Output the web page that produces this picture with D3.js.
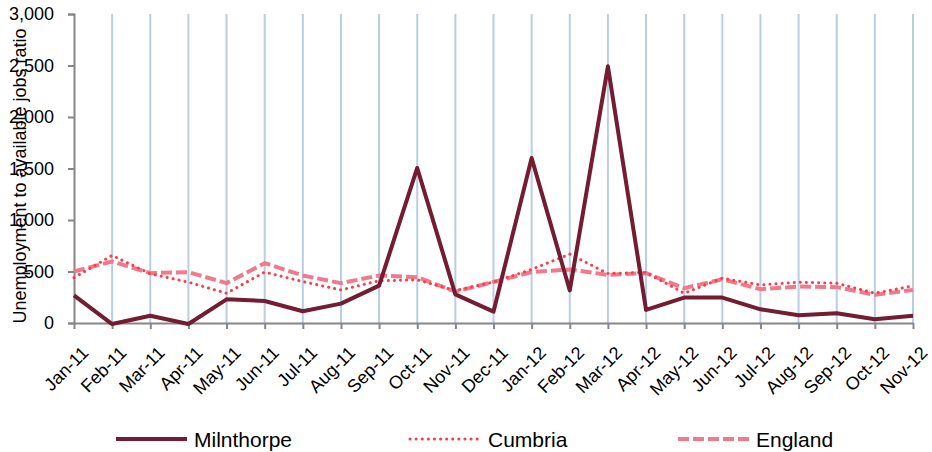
<!DOCTYPE html>
<html><head><meta charset="utf-8">
<script src="https://cdn.jsdelivr.net/npm/d3@7"></script>
<style>body{margin:0;background:#fff}svg{display:block;font-family:"Liberation Sans",Arial,sans-serif}</style>
</head><body>
<svg id="chart" width="932" height="452"></svg>
<script>
const months = ["Jan-11","Feb-11","Mar-11","Apr-11","May-11","Jun-11","Jul-11","Aug-11","Sep-11","Oct-11","Nov-11","Dec-11","Jan-12","Feb-12","Mar-12","Apr-12","May-12","Jun-12","Jul-12","Aug-12","Sep-12","Oct-12","Nov-12"];
const milnthorpe = [268,-10,71,-10,230,214,114,188,363,1505,278,110,1602,316,2492,127,247,247,133,75,94,36,71];
const cumbria = [440,656,478,396,289,494,402,321,410,419,315,398,520,669,480,492,289,435,370,396,386,289,360];
const england = [500,597,484,494,387,581,461,387,461,445,305,398,495,520,467,484,338,425,328,354,348,273,321];
const yTicks = [0,500,1000,1500,2000,2500,3000];
const seriesNames = ["Milnthorpe","Cumbria","England"];

const svg = d3.select("#chart");
const x = d3.scalePoint().domain(months).range([74,913]);
const y = d3.scaleLinear().domain([0,3000]).range([323,14]);
const axisCol = "#868686";
const font = "Liberation Sans, Arial, sans-serif";

// vertical gridlines
svg.append("g").selectAll("line").data(months.slice(1)).join("line")
  .attr("x1",d=>x(d)).attr("x2",d=>x(d)).attr("y1",y(3000)).attr("y2",y(0))
  .attr("stroke","#b9cde5").attr("stroke-width",2);

// y axis
const ya = svg.append("g").attr("transform","translate(74,0)")
  .call(d3.axisLeft(y).tickValues(yTicks).tickSize(6).tickPadding(14).tickFormat(d3.format(",")));
ya.select(".domain").attr("stroke",axisCol).attr("stroke-width",2);
ya.selectAll(".tick line").attr("stroke",axisCol).attr("stroke-width",2);
ya.selectAll(".tick text").attr("font-size",18).attr("fill","#000").attr("font-family",font);

// x axis
const xa = svg.append("g").attr("transform","translate(0,323)")
  .call(d3.axisBottom(x).tickSize(6).tickSizeOuter(0));
xa.select(".domain").attr("stroke",axisCol).attr("stroke-width",2);
xa.selectAll(".tick line").attr("stroke",axisCol).attr("stroke-width",2);
xa.selectAll(".tick text").attr("font-size",18).attr("fill","#000").attr("font-family",font)
  .attr("text-anchor","end").attr("dy",0).attr("y",0)
  .attr("transform","translate(15,31) rotate(-45)");

// axis title
svg.append("text").attr("transform","translate(26,176) rotate(-90)")
  .attr("text-anchor","middle").attr("font-size",18).attr("fill","#000")
  .text("Unemployment to available jobs ratio");

const line = d3.line().x((d,i)=>x(months[i])).y(d=>y(d));
const styles = [
  {data:milnthorpe,color:"#731c32",w:4,dash:null,cap:"butt"},
  {data:cumbria,color:"#ff3c46",w:3,dash:"0.1,6",cap:"round"},
  {data:england,color:"#f07a8c",w:4,dash:"11,4",cap:"butt"}
];
[2,1,0].forEach(i=>{
  const s = styles[i];
  svg.append("path").datum(s.data).attr("d",line).attr("fill","none")
    .attr("stroke",s.color).attr("stroke-width",s.w).attr("stroke-linejoin","round")
    .attr("stroke-linecap",s.cap).attr("stroke-dasharray",s.dash);
});

// legend
const legX = [116,410,678];
seriesNames.forEach((n,i)=>{
  const s = styles[i];
  const g = svg.append("g").attr("transform",`translate(${legX[i]},439)`);
  g.append("line").attr("x1",0).attr("x2",71).attr("y1",0).attr("y2",0)
    .attr("stroke",s.color).attr("stroke-width",s.w).attr("stroke-linecap",s.cap).attr("stroke-dasharray",s.dash);
  g.append("text").attr("x",78).attr("y",8).attr("font-size",21).attr("fill","#000").attr("font-family",font).text(n);
});
</script>
</body></html>
